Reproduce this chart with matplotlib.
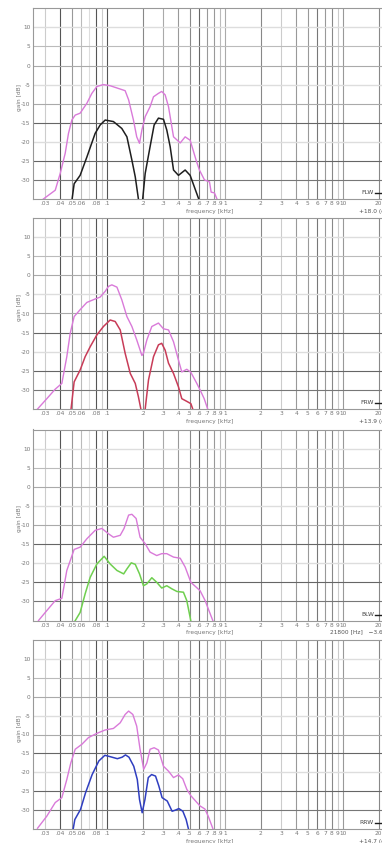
import matplotlib
matplotlib.use("Agg")
import matplotlib.pyplot as plt
import numpy as np

W, H, DPI = 382, 843, 100

MAGENTA = "#d97ad9"
BLACK = "#1e1e1e"
RED = "#c83c58"
GREEN = "#6fcf4f"
BLUE = "#2f3ec0"
TXT = "#777777"

# ── axis furniture ──────────────────────────────────────────────────────────
TICK_FREQS = [.03, .04, .05, .06, .08, .1, .2, .3, .4, .5, .6, .7, .8, .9,
              1, 2, 3, 4, 5, 6, 7, 8, 9, 10, 20]
TICK_LABELS = [".03", ".04", ".05", ".06", ".08", ".1", ".2", ".3", ".4", ".5",
               ".6", ".7", ".8", ".9", "1", "2", "3", "4", "5", "6", "7", "8",
               "9", "10", "20"]
GRID_FREQS = [.03, .04, .05, .06, .07, .08, .09, .1, .2, .3, .4, .5, .6, .7,
              .8, .9, 1, 2, 3, 4, 5, 6, 7, 8, 9, 10, 20]
GRID_SHADES = ["#cccccc", "#555555", "#999999", "#bbbbbb", "#dddddd", "#555555",
               "#cccccc", "#555555", "#888888", "#aaaaaa", "#999999", "#888888",
               "#666666", "#999999", "#999999", "#bbbbbb", "#aaaaaa", "#888888",
               "#cccccc", "#999999", "#999999", "#777777", "#999999", "#888888",
               "#cccccc", "#999999", "#888888"]
Y_TICKS = [10, 5, 0, -5, -10, -15, -20, -25, -30]
Y_SHADES = ["#dddddd", "#bbbbbb", "#aaaaaa", "#dddddd", "#aaaaaa", "#666666",
            "#dddddd", "#666666", "#777777"]

# ── panel 1: FLW ────────────────────────────────────────────────────────────
flw_ref_f = [0.0288, 0.0363, 0.040, 0.0441, 0.0470, 0.0502, 0.0536, 0.059,
             0.0673, 0.0742, 0.0818, 0.093, 0.106, 0.142, 0.152, 0.167, 0.178,
             0.188, 0.197, 0.210, 0.231, 0.247, 0.272, 0.290, 0.310, 0.331,
             0.365, 0.416, 0.458, 0.505, 0.567, 0.605, 0.668, 0.736, 0.761,
             0.811, 0.866]
flw_ref_db = [-35, -32.7, -28.3, -23, -17.8, -14.3, -13, -12.5, -9.9, -7.3,
              -5.5, -5, -5.3, -6.6, -9, -14.3, -18.7, -20.4, -16.9, -13.4,
              -10.8, -8.2, -7.3, -6.8, -7.7, -10.8, -18.7, -20.3, -18.7, -19.6,
              -24.8, -27.4, -30, -30.5, -33.2, -33.4, -35.5]
flw_f = [0.0502, 0.0525, 0.059, 0.0673, 0.0791, 0.0872, 0.0962, 0.113, 0.133,
         0.147, 0.162, 0.173, 0.184, 0.190, 0.200, 0.210, 0.231, 0.250, 0.272,
         0.300, 0.320, 0.342, 0.365, 0.402, 0.458, 0.505, 0.605]
flw_db = [-35.5, -31, -28.8, -24, -17.8, -15.6, -14.3, -14.7, -16.5, -18.7,
          -24.8, -29.2, -35, -37, -35, -28.3, -21.3, -15.6, -13.8, -14.1,
          -16.9, -21.3, -27.4, -28.8, -27.4, -28.8, -35.5]

# ── panel 2: FRW ────────────────────────────────────────────────────────────
frw_ref_f = [0.0257, 0.0308, 0.0363, 0.0413, 0.0455, 0.0486, 0.0525, 0.059,
             0.0673, 0.0791, 0.0872, 0.0962, 0.1026, 0.1096, 0.121, 0.133,
             0.147, 0.162, 0.178, 0.197, 0.203, 0.217, 0.239, 0.272, 0.300,
             0.331, 0.365, 0.402, 0.429, 0.473, 0.512, 0.575, 0.613, 0.664,
             0.72]
frw_ref_db = [-35, -32.3, -29.8, -28.3, -21.3, -15.2, -10.8, -9.0, -7.1, -6.2,
              -5.7, -4.2, -2.9, -2.5, -3.1, -6.4, -10.8, -13.4, -16.9, -21.0,
              -20.4, -16.9, -13.4, -12.5, -14.0, -14.3, -17.4, -22.2, -25.3,
              -24.6, -25.4, -28.3, -30, -32.3, -35.5]
frw_f = [0.0492, 0.0525, 0.059, 0.0651, 0.0718, 0.0818, 0.093, 0.106, 0.117,
         0.129, 0.142, 0.157, 0.173, 0.184, 0.193, 0.200, 0.210, 0.224, 0.247,
         0.272, 0.290, 0.310, 0.331, 0.365, 0.402, 0.429, 0.473, 0.512, 0.538]
frw_db = [-35.5, -27.9, -24.8, -21.3, -18.7, -15.6, -13.4, -11.7, -12.1, -14.3,
          -20.4, -25.7, -28.3, -31.8, -35, -37, -35, -27.4, -21.3, -18.2,
          -17.8, -19.6, -23, -25.7, -29.2, -32.3, -33, -33.6, -35.5]

# ── panel 3: BLW ────────────────────────────────────────────────────────────
blw_ref_f = [0.0262, 0.0308, 0.0363, 0.0413, 0.0455, 0.0525, 0.059, 0.0673,
             0.0791, 0.0902, 0.1026, 0.113, 0.129, 0.139, 0.152, 0.162, 0.176,
             0.19, 0.21, 0.231, 0.263, 0.29, 0.32, 0.365, 0.416, 0.458, 0.512,
             0.613, 0.677, 0.72, 0.797]
blw_ref_db = [-35, -32.4, -29.8, -29.2, -21.9, -16.4, -15.8, -13.6, -11.4,
              -10.9, -12.3, -13.2, -12.7, -10.9, -7.4, -7.2, -8.3, -13.2,
              -14.9, -17.1, -18, -17.5, -17.5, -18.4, -18.7, -21, -25, -27.2,
              -29.8, -32, -35.5]
blw_f = [0.0525, 0.059, 0.0651, 0.0718, 0.0818, 0.0943, 0.106, 0.121, 0.138,
         0.147, 0.160, 0.173, 0.188, 0.203, 0.217, 0.239, 0.263, 0.29, 0.32,
         0.353, 0.39, 0.443, 0.473, 0.505, 0.514]
blw_db = [-35.5, -32.9, -28, -23.7, -20.2, -18.2, -20.2, -21.9, -22.8, -21.5,
          -19.9, -20.3, -22.8, -25.9, -25.4, -23.8, -25, -26.5, -25.9, -26.7,
          -27.4, -27.6, -29.8, -34.2, -35.5]

# ── panel 4: RRW ────────────────────────────────────────────────────────────
rrw_ref_f = [0.0257, 0.0308, 0.0363, 0.0413, 0.0455, 0.0492, 0.0536, 0.061,
             0.0695, 0.0818, 0.0962, 0.113, 0.129, 0.142, 0.152, 0.165, 0.178,
             0.19, 0.204, 0.217, 0.231, 0.25, 0.272, 0.3, 0.331, 0.365, 0.402,
             0.437, 0.473, 0.512, 0.612, 0.673, 0.718, 0.80]
rrw_ref_db = [-34.8, -31.6, -28, -26.7, -21.9, -17.5, -13.9, -12.6, -10.8,
              -9.7, -8.8, -8.4, -6.9, -4.7, -3.8, -4.7, -7.8, -13.9, -19.2,
              -17.5, -13.9, -13.5, -14.1, -18.4, -19.7, -21.4, -20.7, -21.7,
              -24.5, -26.2, -28.9, -29.7, -31.6, -35.5]
rrw_f = [0.0512, 0.0532, 0.0595, 0.0656, 0.0746, 0.085, 0.0956, 0.107, 0.122,
         0.134, 0.143, 0.153, 0.168, 0.18, 0.188, 0.198, 0.209, 0.223, 0.238,
         0.257, 0.274, 0.292, 0.323, 0.355, 0.379, 0.405, 0.438, 0.467, 0.493]
rrw_db = [-35.5, -32.5, -29.8, -25.4, -20.6, -17, -15.5, -15.9, -16.4, -16,
          -15.4, -16, -18.4, -21.9, -27.2, -30.7, -27.2, -21.4, -20.6, -21,
          -23.6, -26.7, -27.6, -30.3, -30, -29.6, -30.3, -32.5, -35.5]

PANELS = [
    # name, ref, curve, colour, right-hand note, top px, bottom px
    ("FLW", (flw_ref_f, flw_ref_db), (flw_f, flw_db), BLACK,
     "+18.0 (dB)", 8.3, 199.0),
    ("FRW", (frw_ref_f, frw_ref_db), (frw_f, frw_db), RED,
     "+13.9 (dB)", 218.0, 409.0),
    ("BLW", (blw_ref_f, blw_ref_db), (blw_f, blw_db), GREEN,
     "21800 [Hz]   \u22123.6 (dB)", 429.5, 620.5),
    ("RRW", (rrw_ref_f, rrw_ref_db), (rrw_f, rrw_db), BLUE,
     "+14.7 (dB)", 640.0, 829.0),
]

F_LO, F_HI = 0.02366, 24.0
PX_PER_DECADE = 118.0
LEFT_PX = 33.3


def px(x, y):
    return x / W, 1 - y / H


fig = plt.figure(figsize=(W / DPI, H / DPI), dpi=DPI)
fig.patch.set_facecolor("white")

width_px = np.log10(F_HI / F_LO) * PX_PER_DECADE

for name, ref, curve, color, note, top, bot in PANELS:
    ax = fig.add_axes([LEFT_PX / W, 1 - bot / H, width_px / W, (bot - top) / H])
    ax.set_xscale("log")
    ax.set_xlim(F_LO, F_HI)
    ax.set_ylim(-35, 15)

    for f, c in zip(GRID_FREQS, GRID_SHADES):
        ax.axvline(f, color=c, lw=0.8, zorder=1)
    for y, c in zip(Y_TICKS, Y_SHADES):
        ax.axhline(y, color=c, lw=1.0 if c == "#dddddd" else 0.8, zorder=1)

    ax.plot(ref[0], ref[1], color=MAGENTA, lw=1.0, zorder=3)
    ax.plot(curve[0], curve[1], color=color, lw=1.1, zorder=4)

    ax.set_xticks(TICK_FREQS)
    ax.set_xticklabels(TICK_LABELS)
    ax.xaxis.set_minor_locator(matplotlib.ticker.NullLocator())
    ax.set_yticks(Y_TICKS)
    ax.set_yticklabels([str(v) for v in Y_TICKS])
    ax.tick_params(length=0, labelsize=4.2, labelcolor=TXT, pad=1.5)
    ax.tick_params(axis="y", pad=2)
    for s in ax.spines.values():
        s.set_color("#999999")
        s.set_linewidth(0.8)

    # legend entry: label + short dash at bottom right
    ly = bot - 6
    fig.text(*px(374, ly), name, ha="right", va="center", fontsize=4.3,
             color="#444444")
    fig.add_artist(plt.Line2D([375 / W, 390 / W], [1 - ly / H, 1 - ly / H],
                              color=BLACK, lw=1.0))

    fig.text(*px(19, (top + bot) / 2 - 6), "gain [dB]", rotation=90,
             ha="center", va="center", fontsize=4.2, color=TXT)
    fig.text(*px(210, bot + 12), "frequency [kHz]", ha="center", va="center",
             fontsize=4.2, color=TXT)
    note_x = 330 if name == "BLW" else 359
    fig.text(*px(note_x, bot + 12), note, ha="left", va="center",
             fontsize=4.2, color="#555555")

fig.savefig("out.png", dpi=DPI, facecolor="white")
